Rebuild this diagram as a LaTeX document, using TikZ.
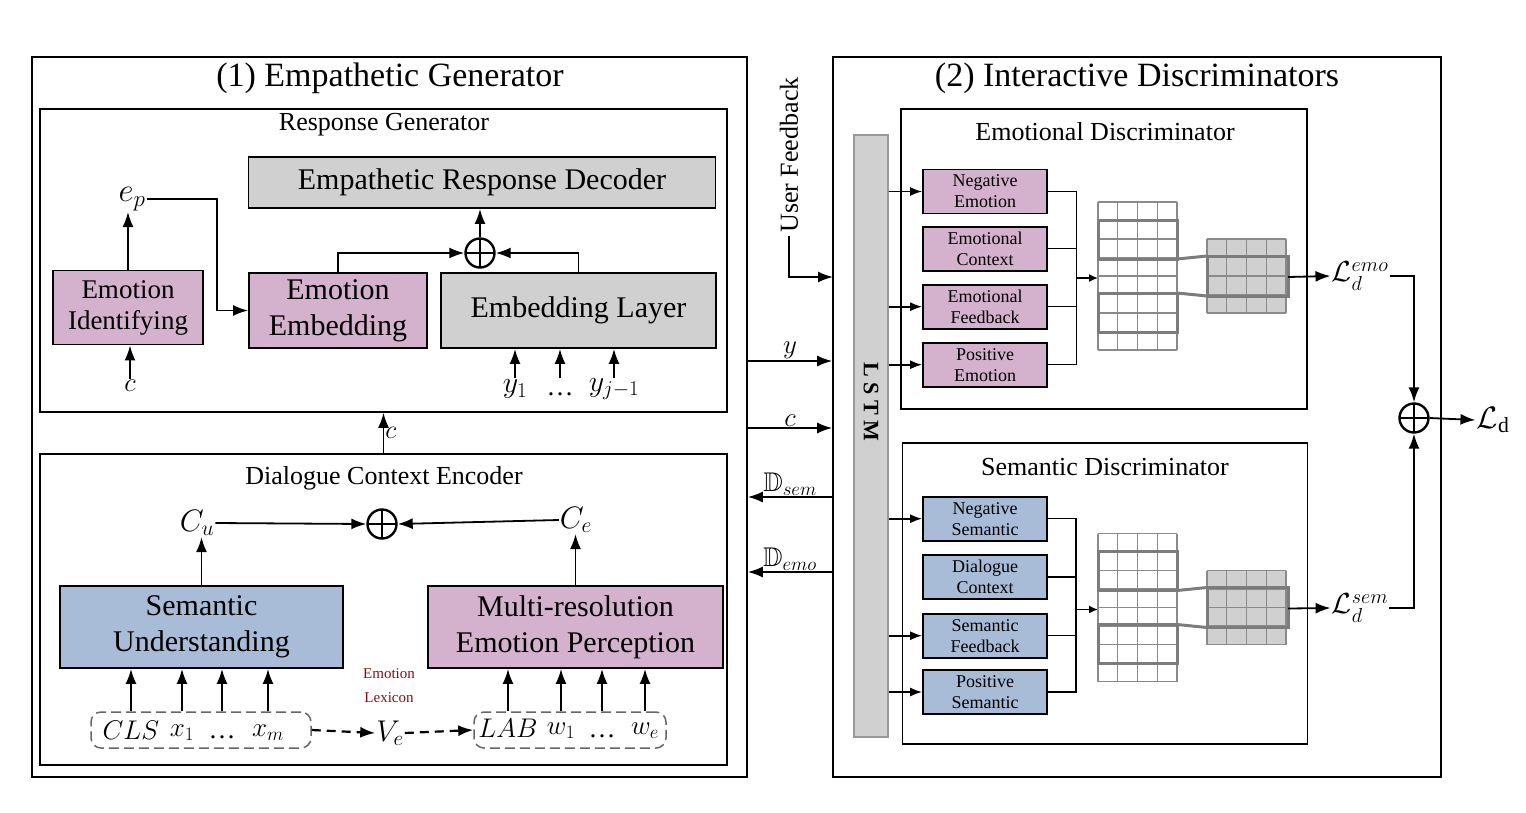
\documentclass[tikz,border=0pt]{standalone}
\usepackage{fix-cm}
\usepackage{amsmath,amssymb}
\usepackage{fontspec}
\setmainfont{Liberation Serif}
\usetikzlibrary{arrows.meta,positioning}

\definecolor{emopink}{RGB}{212,178,206}
\definecolor{semblue}{RGB}{168,188,215}
\definecolor{boxgray}{RGB}{208,208,208}
\definecolor{gridgray}{RGB}{138,138,138}
\definecolor{lexred}{RGB}{140,10,20}

\begin{document}
\begin{tikzpicture}[x=1pt,y=-1pt,
        outerbox/.style={draw, line width=1.6pt, inner sep=0pt},
        block/.style={draw, line width=1.8pt, inner sep=0pt, align=center, font=\fontsize{30}{36}\selectfont},
        smallblock/.style={draw, line width=1.8pt, inner sep=0pt, align=center, minimum width=124pt, minimum height=44pt, font=\fontsize{18}{21}\selectfont},
        headtitle/.style={font=\fontsize{34}{40}\selectfont},
        subtitle/.style={font=\fontsize{26}{30}\selectfont},
        lbl/.style={inner sep=1pt, font=\fontsize{31}{34}\selectfont},
        tok/.style={inner sep=1pt, font=\fontsize{27}{30}\selectfont},
        sumnode/.style={circle, draw, line width=2.4pt, minimum size=29pt, inner sep=0pt,
            path picture={\draw[line width=2.4pt] (path picture bounding box.north) -- (path picture bounding box.south)
                (path picture bounding box.west) -- (path picture bounding box.east);}},
        arr/.style={-{Latex[length=15pt,width=11pt]}, line width=1.8pt},
        sarr/.style={-{Latex[length=12pt,width=9pt]}, line width=1.6pt},
        tarr/.style={-{Latex[length=9pt,width=8pt]}, line width=1.5pt},
        dasharr/.style={arr, line width=2.2pt, dash pattern=on 9pt off 6pt},
        busline/.style={line width=1.5pt},
        tokbox/.style={draw=black!60, line width=1.5pt, dash pattern=on 10pt off 5pt, rounded corners=10pt, inner sep=0pt, minimum height=36pt},
        gridthin/.style={draw=gridgray, line width=1.3pt},
        gridthick/.style={draw=gridgray!90!black, line width=3pt}]

    \useasboundingbox (0,0) rectangle (1526,812);

    % Empathetic generator
    \node[outerbox, minimum width=715pt, minimum height=720pt] (gen) at (389.5,417) {};
    \node[headtitle] (gentitle) at (390,78) {(1) Empathetic Generator};

    % Response generator
    \node[outerbox, minimum width=687pt, minimum height=303pt] (respgen) at (383.5,260.5) {};
    \node[subtitle] (resptitle) at (384,125) {Response Generator};
    \node[block, fill=boxgray, minimum width=467pt, minimum height=51pt] (dec) at (482,182.5) {Empathetic Response Decoder};
    \node[block, fill=emopink, minimum width=150pt, minimum height=74pt, font=\fontsize{27}{31}\selectfont] (emoid) at (128,307.5) {Emotion\\Identifying};
    \node[block, fill=emopink, minimum width=178pt, minimum height=75pt] (emoemb) at (338,310.5) {Emotion\\Embedding};
    \node[block, fill=boxgray, minimum width=275pt, minimum height=75pt] (emblay) at (578.5,310.5) {Embedding Layer};
    \node[sumnode] (sum1) at (480,253) {};
    \node[lbl, font=\fontsize{33}{36}\selectfont] (ep) at (132,199) {$e_p$};
    \node[tok] (cin) at (130,386) {$c$};
    \node[tok, font=\fontsize{30}{32}\selectfont] (y1) at (515,389) {$y_1$};
    \node[tok] (yd) at (560,394) {…};
    \node[tok, font=\fontsize{30}{32}\selectfont] (yj) at (614,389) {$y_{j-1}$};

    \draw[arr] (emoid.north) -- (emoid.north |- ep.south);
    \draw[arr] (ep.east) -- ++(70,0) |- (emoemb.west);
    \draw[arr] (emoemb.north) |- (sum1.west);
    \draw[arr] (emblay.north) |- (sum1.east);
    \draw[arr] (sum1.north) -- (sum1.north |- dec.south);
    \draw[arr] (cin.north) -- (cin.north |- emoid.south);
    \foreach \tk in {y1,yd,yj} \draw[arr] (y1.north -| \tk) -- (emblay.south -| \tk);

    % Dialogue context encoder
    \node[outerbox, minimum width=687pt, minimum height=311pt] (ctxenc) at (383.5,609.5) {};
    \node[subtitle] (ctxtitle) at (384,478) {Dialogue Context Encoder};
    \draw[arr] (ctxenc.north) -- (respgen.south) node[midway, right, tok, font=\fontsize{26}{28}\selectfont] (cmid) {$c$};
    \node[block, fill=semblue, minimum width=283pt, minimum height=82pt] (sem) at (201.5,627) {Semantic\\Understanding};
    \node[block, fill=emopink, minimum width=295pt, minimum height=82pt] (mep) at (575.5,627) {Multi-resolution\\Emotion Perception};
    \node[lbl] (cu) at (197,523) {$C_u$};
    \node[sumnode] (sum2) at (382,524) {};
    \node[lbl] (ce) at (576,520) {$C_e$};
    \draw[arr] (sem.north) -- (sem.north |- cu.south);
    \draw[arr] (mep.north) -- (mep.north |- ce.south);
    \draw[arr] (cu.east) -- (sum2.west);
    \draw[arr] (ce.west) -- (sum2.east);

    % Input tokens
    \node[tokbox, minimum width=220pt] (tokx) at (201,730) {};
    \node[tok] (cls) at (131,730) {$CLS$};
    \node[tok] (x1) at (182,733) {$x_1$};
    \node[tok] (xd) at (222,737) {…};
    \node[tok] (xm) at (268,733) {$x_m$};
    \node[tokbox, minimum width=192pt] (tokw) at (570,730) {};
    \node[tok] (lab) at (508,728) {$LAB$};
    \node[tok] (w1) at (561,731) {$w_1$};
    \node[tok] (wd) at (602,736) {…};
    \node[tok] (we) at (645,731) {$w_e$};
    \node[tok, font=\fontsize{30}{32}\selectfont] (ve) at (390,733) {$V_e$};
    \node[text=lexred, align=center, font=\fontsize{15}{24}\selectfont] (lex) at (389,686) {Emotion\\Lexicon};

    \foreach \tk in {cls,x1,xd,xm} \draw[arr] (tokx.north -| \tk) -- (sem.south -| \tk);
    \foreach \tk in {lab,w1,wd,we} \draw[arr] (tokw.north -| \tk) -- (mep.south -| \tk);
    \draw[dasharr] (tokx.east) -- (ve.west);
    \draw[dasharr] (ve.east) -- (tokw.west);

    % Interactive discriminators
    \node[outerbox, minimum width=608pt, minimum height=720pt] (disc) at (1137,417) {};
    \node[headtitle] (disctitle) at (1137,78) {(2) Interactive Discriminators};
    \node[draw=black!40, fill=boxgray, line width=1.3pt, minimum width=34pt, minimum height=602pt, inner sep=0pt] (lstm) at (871,436) {};
    \node[rotate=-90, font=\bfseries\fontsize{22}{24}\selectfont] (lstmtxt) at (871,402) {L S T M};

    % Links between generator and discriminators
    \node[subtitle, rotate=90] (uf) at (789,155) {User Feedback};
    \coordinate (fbin) at (833,277);
    \draw[arr] (uf.west) |- (fbin);
    \draw[arr] (gen.east |- 0,361) -- (disc.west |- 0,361) node[midway, above, tok] (ylab) {$y$};
    \draw[arr] (gen.east |- 0,428) -- (disc.west |- 0,428) node[midway, above, tok] (clab) {$c$};
    \draw[arr] (disc.west |- 0,497) -- (gen.east |- 0,497) node[midway, above, tok] (dsem) {$\mathbb{D}_{sem}$};
    \draw[arr] (disc.west |- 0,572) -- (gen.east |- 0,572) node[midway, above, tok] (demo) {$\mathbb{D}_{emo}$};

    % Emotional discriminator
    \node[outerbox, minimum width=406pt, minimum height=300pt] (emodisc) at (1104,259) {};
    \node[subtitle] (emotitle) at (1105,132) {Emotional Discriminator};
    \node[smallblock, fill=emopink] (negemo) at (985,191.5) {Negative\\Emotion};
    \node[smallblock, fill=emopink] (emoctx) at (985,248.7) {Emotional\\Context};
    \node[smallblock, fill=emopink] (emofb) at (985,306.7) {Emotional\\Feedback};
    \node[smallblock, fill=emopink] (posemo) at (985,364.7) {Positive\\Emotion};
    \foreach \bx in {negemo,emofb,posemo} \draw[sarr] (lstm.east |- \bx.west) -- (\bx.west);
    \coordinate (emobus) at (1076.5,278);
    \coordinate (emoin) at (1098,278);
    \draw[busline] (negemo.east) -| (emobus) (posemo.east) -| (emobus)
        (emoctx.east) -- (emoctx.east -| emobus) (emofb.east) -- (emofb.east -| emobus);
    \draw[tarr] (emobus) -- (emoin);

    % Semantic discriminator
    \node[outerbox, minimum width=405pt, minimum height=301pt] (semdisc) at (1105,593.5) {};
    \node[subtitle] (semtitle) at (1105,467) {Semantic Discriminator};
    \node[smallblock, fill=semblue] (negsem) at (985,518.7) {Negative\\Semantic};
    \node[smallblock, fill=semblue] (dialctx) at (985,577) {Dialogue\\Context};
    \node[smallblock, fill=semblue] (semfb) at (985,635.7) {Semantic\\Feedback};
    \node[smallblock, fill=semblue] (possem) at (985,692) {Positive\\Semantic};
    \foreach \bx in {negsem,semfb,possem} \draw[sarr] (lstm.east |- \bx.west) -- (\bx.west);
    \coordinate (sembus) at (1076,609.5);
    \coordinate (semin) at (1098,609.5);
    \draw[busline] (negsem.east) -| (sembus) (possem.east) -| (sembus)
        (dialctx.east) -- (dialctx.east -| sembus) (semfb.east) -- (semfb.east -| sembus);
    \draw[tarr] (sembus) -- (semin);

    % Feature maps
    \foreach \yo in {0,331.5} {
        \begin{scope}[shift={(0,\yo)}]
            \fill[boxgray] (1207,239) rectangle (1286,313);
            \foreach \i in {0,...,4} {
                \draw[gridthin] (1098+19.75*\i,202) -- (1098+19.75*\i,350);
                \draw[gridthin] (1207+19.75*\i,239) -- (1207+19.75*\i,313);
            }
            \foreach \j in {0,...,8} \draw[gridthin] (1098,202+18.5*\j) -- (1177,202+18.5*\j);
            \foreach \j in {0,...,4} \draw[gridthin] (1207,239+18.5*\j) -- (1286,239+18.5*\j);
            \draw[gridthick] (1098,220) rectangle (1177,259) (1098,293) rectangle (1177,332)
                (1207,256) rectangle (1288,296);
            \draw[gridthick] (1177,259) -- (1207,256) (1177,293) -- (1207,296);
        \end{scope}
    }

    % Discriminator losses
    \coordinate (emoout) at (1288,277);
    \coordinate (semout) at (1288,608.5);
    \node[lbl, font=\fontsize{29}{32}\selectfont] (lemo) at (1360,276) {$\mathcal{L}_d^{emo}$};
    \node[lbl, font=\fontsize{29}{32}\selectfont] (lsem) at (1360,608) {$\mathcal{L}_d^{sem}$};
    \node[sumnode] (sum3) at (1414,418) {};
    \node[lbl] (ld) at (1493,420) {$\mathcal{L}_{\mathrm{d}}$};
    \draw[arr] (emoout) -- (lemo.west);
    \draw[arr] (semout) -- (lsem.west);
    \draw[arr] (lemo.east) -| (sum3.north);
    \draw[arr] (lsem.east) -| (sum3.south);
    \draw[arr] (sum3.east) -- (ld.west);

\end{tikzpicture}
\end{document}
